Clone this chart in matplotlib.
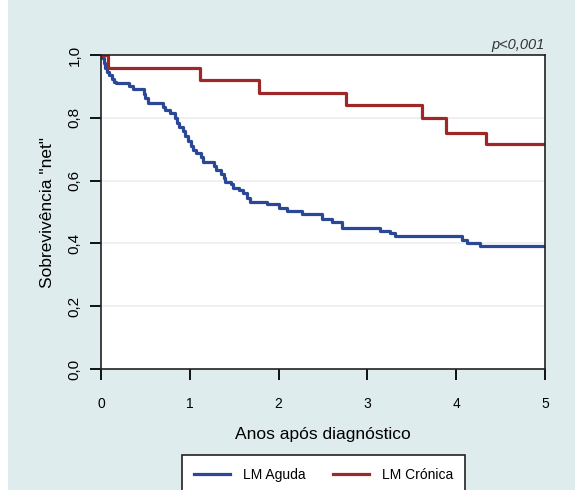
import matplotlib
matplotlib.use('Agg')
import matplotlib.pyplot as plt
from matplotlib.patches import Rectangle
from matplotlib.ticker import FuncFormatter

plt.rcParams['font.family'] = ['Liberation Sans', 'DejaVu Sans']

# Kaplan-Meier style steps (time of drop, survival after drop)
aguda_t = [0, 0.01, 0.03, 0.05, 0.07, 0.09, 0.12, 0.15, 0.17, 0.31, 0.36, 0.48, 0.50,
           0.53, 0.70, 0.72, 0.78, 0.83, 0.86, 0.88, 0.92, 0.95, 0.98, 1.01, 1.04,
           1.07, 1.13, 1.15, 1.27, 1.30, 1.35, 1.38, 1.40, 1.46, 1.49, 1.55, 1.60,
           1.64, 1.68, 1.87, 2.00, 2.09, 2.26, 2.49, 2.60, 2.71, 3.14, 3.25, 3.31,
           4.06, 4.12, 4.27, 5.0]
aguda_s = [1.0, 0.99, 0.975, 0.96, 0.945, 0.935, 0.925, 0.915, 0.91, 0.902, 0.893, 0.875,
           0.862, 0.846, 0.835, 0.825, 0.814, 0.80, 0.785, 0.770, 0.757, 0.742, 0.725,
           0.710, 0.698, 0.687, 0.676, 0.660, 0.645, 0.635, 0.620, 0.607, 0.597, 0.588,
           0.576, 0.570, 0.560, 0.545, 0.533, 0.525, 0.512, 0.503, 0.494, 0.477, 0.467,
           0.450, 0.440, 0.432, 0.422, 0.411, 0.402, 0.393, 0.393]

cronica_t = [0, 0.08, 1.12, 1.78, 2.76, 3.61, 3.89, 4.33, 5.0]
cronica_s = [1.0, 0.958, 0.920, 0.880, 0.841, 0.798, 0.753, 0.716, 0.716]

x_ticks = [0, 1, 2, 3, 4, 5]
y_ticks = [0.0, 0.2, 0.4, 0.6, 0.8, 1.0]

blue = '#2b4797'
red = '#9c2828'
bg = '#dfeced'

fig = plt.figure(figsize=(5.75, 4.9), dpi=100, facecolor=bg)
fig.patches.append(Rectangle((0, 0), 8 / 575, 1, transform=fig.transFigure,
                             facecolor='white', edgecolor='none', zorder=-1))
ax = fig.add_axes([101 / 575, 1 - 369 / 490, 444 / 575, 314 / 490])

for y in y_ticks[1:-1]:
    ax.axhline(y, color='#eeeeee', lw=1.2, zorder=0)

ax.step(aguda_t, aguda_s, where='post', color=blue, lw=2.3, label='LM Aguda')
ax.step(cronica_t, cronica_s, where='post', color=red, lw=2.3, label='LM Crónica')

ax.set_xlim(0, 5)
ax.set_ylim(0, 1)
ax.set_xticks(x_ticks)
ax.set_yticks(y_ticks)
ax.yaxis.set_major_formatter(FuncFormatter(lambda v, p: '{:.1f}'.format(v).replace('.', ',')))
ax.tick_params(axis='x', direction='out', length=8, width=1.3, pad=12, labelsize=10)
ax.tick_params(axis='y', direction='out', length=8, width=1.3, pad=6, labelsize=11)
for lab in ax.get_yticklabels():
    lab.set_rotation(90)
    lab.set_va('center')
for s in ax.spines.values():
    s.set_color('#222222')
    s.set_linewidth(1.2)

ax.set_xlabel('Anos após diagnóstico', fontsize=12.5, labelpad=12)
ax.set_ylabel('Sobrevivência "net"', fontsize=12.5, labelpad=9)

ax.text(1.0, 1.01, 'p<0,001', transform=ax.transAxes, ha='right', va='bottom',
        fontsize=10.5, style='italic', color='#333333')

leg = fig.legend(loc='upper center', bbox_to_anchor=(0.5626, 1 - 455 / 490), ncol=2,
                 fontsize=10, frameon=True, fancybox=False, edgecolor='#222222',
                 framealpha=1, facecolor='white',
                 handlelength=2.6, handletextpad=0.9, columnspacing=2.0,
                 borderpad=0.9, borderaxespad=0)
leg.get_frame().set_linewidth(1.2)

fig.savefig('out.png', dpi=100, facecolor=bg)
